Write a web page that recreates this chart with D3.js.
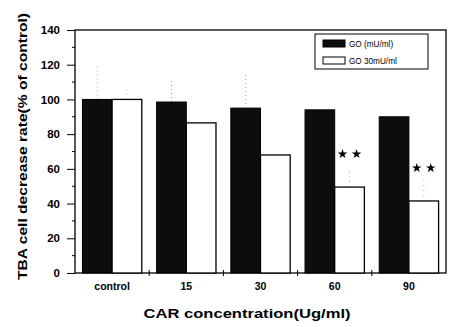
<!DOCTYPE html>
<html><head><meta charset="utf-8">
<script src="https://cdn.jsdelivr.net/npm/d3@7"></script>
<style>body{margin:0;background:#fff}svg{display:block}</style>
</head><body><svg id="c" width="449" height="327"></svg>
<script>
const categories = ["control","15","30","60","90"];
const seriesNames = ["GO (mU/ml)","GO 30mU/ml"];
const go0 = [100, 98.5, 95, 94, 90];
const go30 = [100, 86.5, 68, 49.5, 41.5];
const err0 = [19, 13, 19, 0, 0];
const err30 = [6, 0, 0, 10, 12];
const stars = [0, 0, 0, 2, 2];
const yTicks = [0,20,40,60,80,100,120,140];

const FONT = "Liberation Sans, Arial, sans-serif";
const svg = d3.select("#c");
const m = {l:75, r:446, t:30, b:273};
const x = d3.scaleBand().domain(categories).range([m.l, m.r]).paddingInner(0).paddingOuter(0);
const y = d3.scaleLinear().domain([0,140]).range([m.b, m.t]);
const bw = x.bandwidth()*0.4;
const off = x.bandwidth()*0.1;

// frame
svg.append("rect").attr("x",m.l).attr("y",m.t).attr("width",m.r-m.l).attr("height",m.b-m.t)
  .attr("fill","none").attr("stroke","#000").attr("stroke-width",1.3);

// bars
const g = svg.append("g");
const star = d3.symbol(d3.symbolStar).size(28);
categories.forEach((c,i)=>{
  const x0 = x(c)+off;
  if(err0[i]>0) g.append("line").attr("x1",x0+bw/2).attr("x2",x0+bw/2).attr("y1",y(go0[i])).attr("y2",y(go0[i]+err0[i]))
    .attr("stroke","#999").attr("stroke-dasharray","1,3").attr("stroke-width",1);
  if(err30[i]>0) g.append("line").attr("x1",x0+bw*1.5).attr("x2",x0+bw*1.5).attr("y1",y(go30[i])).attr("y2",y(go30[i]+err30[i]))
    .attr("stroke","#aaa").attr("stroke-dasharray","1,4").attr("stroke-width",1);
  g.append("rect").attr("x",x0).attr("y",y(go0[i])).attr("width",bw).attr("height",y(0)-y(go0[i]))
    .attr("fill","#0d0d0d").attr("stroke","#000").attr("stroke-width",1);
  g.append("rect").attr("x",x0+bw).attr("y",y(go30[i])).attr("width",bw).attr("height",y(0)-y(go30[i]))
    .attr("fill","#fff").attr("stroke","#000").attr("stroke-width",1.3);
  for(let k=0;k<stars[i];k++){
    g.append("path").attr("d",star)
      .attr("transform",`translate(${x0+bw*1.5-7+k*14},${y(go30[i])-33})`).attr("fill","#000");
  }
});

// y axis
const ya = svg.append("g").attr("transform",`translate(${m.l},0)`)
  .call(d3.axisLeft(y).tickValues(yTicks).tickSize(8).tickPadding(7));
ya.select(".domain").remove();
ya.selectAll("text").attr("font-family",FONT).attr("font-weight","bold").attr("font-size",11.5).attr("fill","#000");
const minor = d3.range(10,140,20);
svg.append("g").selectAll("line").data(minor).join("line")
  .attr("x1",m.l-3).attr("x2",m.l).attr("y1",d=>y(d)).attr("y2",d=>y(d)).attr("stroke","#000");

// x axis
const xa = svg.append("g").attr("transform",`translate(0,${m.b})`)
  .call(d3.axisBottom(x).tickSize(0).tickPadding(10));
xa.select(".domain").remove();
xa.selectAll("text").attr("font-family",FONT).attr("font-weight","bold").attr("font-size",10.5).attr("fill","#000");
const bounds = categories.slice(1).map(c=>x(c));
svg.append("g").selectAll("line").data(bounds).join("line")
  .attr("x1",d=>d).attr("x2",d=>d).attr("y1",m.b-3).attr("y2",m.b+3).attr("stroke","#000");

// axis titles
svg.append("text").attr("x",247).attr("y",318).attr("text-anchor","middle")
  .attr("font-family",FONT).attr("font-size",13.5).attr("font-weight","bold")
  .attr("textLength",207).attr("lengthAdjust","spacingAndGlyphs")
  .text("CAR concentration(Ug/ml)");
svg.append("text").attr("transform",`translate(27,146.5) rotate(-90)`).attr("text-anchor","middle")
  .attr("font-family",FONT).attr("font-size",13.5).attr("font-weight","bold")
  .attr("textLength",267).attr("lengthAdjust","spacingAndGlyphs")
  .text("TBA cell decrease rate(% of control)");

// legend
const lg = svg.append("g");
lg.append("rect").attr("x",315).attr("y",34).attr("width",113).attr("height",35).attr("fill","#fff").attr("stroke","#000").attr("stroke-width",1);
seriesNames.forEach((s,i)=>{
  const yy = 40 + i*17;
  lg.append("rect").attr("x",323).attr("y",yy).attr("width",22).attr("height",7)
    .attr("fill",i===0?"#0d0d0d":"#fff").attr("stroke","#000").attr("stroke-width",1);
  lg.append("text").attr("x",349).attr("y",yy+6.5).attr("font-family",FONT)
    .attr("font-size",8.2).text(s);
});
</script></body></html>
